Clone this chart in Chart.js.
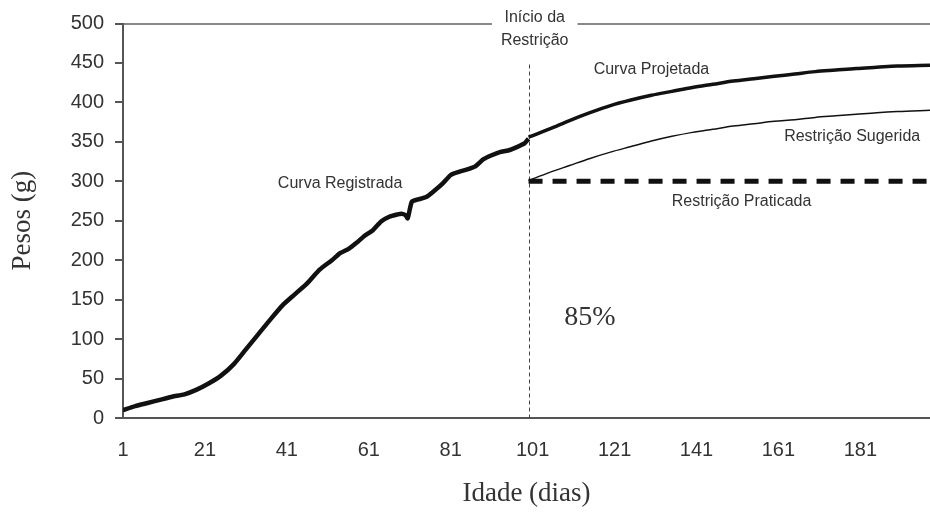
<!DOCTYPE html>
<html>
<head>
<meta charset="utf-8">
<script src="https://cdn.jsdelivr.net/npm/chart.js@4.4.1/dist/chart.umd.min.js"></script>
<style>
  html, body { margin: 0; padding: 0; background: #fff; }
</style>
</head>
<body>
<canvas id="chart" width="930" height="514"></canvas>
<script>
const SANS = "'Liberation Sans', Arial, sans-serif";
const SERIF = "'Liberation Serif', 'Times New Roman', serif";
const INK = '#333';

// --- data ---
const xTicks = [1, 21, 41, 61, 81, 101, 121, 141, 161, 181];

const recordedDays = [1, 4, 7, 10, 13, 16, 19, 22, 25, 28, 31, 34, 37, 40, 43, 46, 49, 52, 54, 56, 58, 60, 62, 64, 66, 68, 69, 70, 70.5, 71.5, 73, 75, 77, 79, 81, 83, 85, 87, 89, 91, 93, 95, 97, 99, 100];
const recordedWeights = [10, 15, 19, 23, 27, 30, 36, 44, 54, 68, 87, 106, 125, 143, 157, 171, 188, 200, 209, 214, 222, 231, 238, 249, 255, 258, 259, 257, 253, 274, 277, 280, 288, 297, 308, 312, 315, 319, 328, 333, 337, 339, 343, 348, 354];

const projectedDays = [100, 105, 110, 115, 120, 125, 130, 135, 140, 145, 150, 155, 160, 165, 170, 175, 180, 185, 190, 198];
const projectedWeights = [356, 366, 377, 387, 396, 403, 409, 414, 419, 423, 427, 430, 433, 436, 439, 441, 443, 444.5, 446, 447];

const suggestedDays = [100, 105, 110, 115, 120, 125, 130, 135, 140, 145, 150, 155, 160, 165, 170, 175, 180, 185, 190, 198];
const suggestedWeights = [301, 311, 320, 329, 337, 344, 351, 357, 362, 366, 370, 373, 376, 378, 381, 383, 385, 387, 388.5, 390];

const practicedDays = [100, 198];
const practicedWeights = [300, 300];

const restrictionDay = 100;

function pts(xs, ys) {
    return xs.map((x, i) => ({ x: x, y: ys[i] }));
}

// text notes placed in data units
const notes = [
    { text: 'Curva Registrada', x: 54, y: 297 },
    { text: 'Curva Projetada', x: 130, y: 442 },
    { text: 'Restrição Sugerida', x: 179, y: 357 },
    { text: 'Restrição Praticada', x: 152, y: 274 }
];

const annotate = {
    id: 'annotate',
    beforeDatasetsDraw(chart) {
        const { ctx, scales: { x, y } } = chart;
        const lx = Math.round(x.getPixelForValue(restrictionDay)) + 0.5;
        ctx.save();
        ctx.strokeStyle = '#444';
        ctx.lineWidth = 1;
        ctx.setLineDash([4, 3]);
        ctx.beginPath();
        ctx.moveTo(lx, y.getPixelForValue(448));
        ctx.lineTo(lx, y.bottom);
        ctx.stroke();
        ctx.restore();
    },
    afterDatasetsDraw(chart) {
        const { ctx, scales: { x, y } } = chart;
        ctx.save();
        ctx.fillStyle = INK;
        ctx.textAlign = 'center';
        ctx.textBaseline = 'middle';
        ctx.font = '16px ' + SANS;
        notes.forEach(n => {
            ctx.fillText(n.text, x.getPixelForValue(n.x), y.getPixelForValue(n.y));
        });

        // header over the top line
        const hx = x.getPixelForValue(restrictionDay + 1.5);
        const w = Math.max(ctx.measureText('Início da').width, ctx.measureText('Restrição').width) + 18;
        ctx.fillStyle = '#fff';
        ctx.fillRect(hx - w / 2, y.getPixelForValue(520), w, y.getPixelForValue(470) - y.getPixelForValue(520));
        ctx.fillStyle = INK;
        ctx.fillText('Início da', hx, y.getPixelForValue(507));
        ctx.fillText('Restrição', hx, y.getPixelForValue(478));

        ctx.font = '28px ' + SERIF;
        ctx.fillText('85%', x.getPixelForValue(115), y.getPixelForValue(127));
        ctx.restore();
    }
};

const ctx = document.getElementById('chart').getContext('2d');
new Chart(ctx, {
    type: 'line',
    data: {
        datasets: [
            {
                label: 'Curva Registrada',
                data: pts(recordedDays, recordedWeights),
                borderColor: '#111',
                borderWidth: 4.5,
                tension: 0.2,
                pointRadius: 0
            },
            {
                label: 'Curva Projetada',
                data: pts(projectedDays, projectedWeights),
                borderColor: '#111',
                borderWidth: 3.5,
                cubicInterpolationMode: 'monotone',
                pointRadius: 0
            },
            {
                label: 'Restrição Sugerida',
                data: pts(suggestedDays, suggestedWeights),
                borderColor: '#111',
                borderWidth: 1.5,
                cubicInterpolationMode: 'monotone',
                pointRadius: 0
            },
            {
                label: 'Restrição Praticada',
                data: pts(practicedDays, practicedWeights),
                borderColor: '#111',
                borderWidth: 5,
                borderDash: [14, 10],
                borderCapStyle: 'butt',
                pointRadius: 0
            }
        ]
    },
    options: {
        responsive: false,
        animation: false,
        layout: { padding: { top: 23.5, left: 0, right: 0, bottom: 0 } },
        plugins: { legend: { display: false }, tooltip: { enabled: false } },
        scales: {
            x: {
                type: 'linear',
                min: 1,
                max: 198,
                afterBuildTicks: (scale) => { scale.ticks = xTicks.map(v => ({ value: v })); },
                afterFit: (scale) => { scale.height = 96; },
                grid: { display: false, drawTicks: false },
                border: { display: true, color: '#555', width: 2 },
                ticks: { color: INK, font: { family: SANS, size: 20 }, padding: 20, maxRotation: 0, autoSkip: false },
                title: {
                    display: true,
                    text: 'Idade (dias)',
                    color: INK,
                    font: { family: SERIF, size: 27 },
                    padding: { top: 0, bottom: 4 }
                }
            },
            y: {
                min: 0,
                max: 500,
                afterFit: (scale) => { scale.width = 123; },
                ticks: { stepSize: 50, color: INK, font: { family: SANS, size: 20 }, padding: 11 },
                grid: {
                    color: (c) => c.tick && c.tick.value === 500 ? '#888' : 'rgba(0,0,0,0)',
                    lineWidth: 2,
                    tickColor: '#555',
                    tickLength: 8
                },
                border: { display: true, color: '#555', width: 2 },
                title: {
                    display: true,
                    text: 'Pesos (g)',
                    color: INK,
                    font: { family: SERIF, size: 27 },
                    padding: { top: 7, bottom: 0 }
                }
            }
        }
    },
    plugins: [annotate]
});
</script>
</body>
</html>
